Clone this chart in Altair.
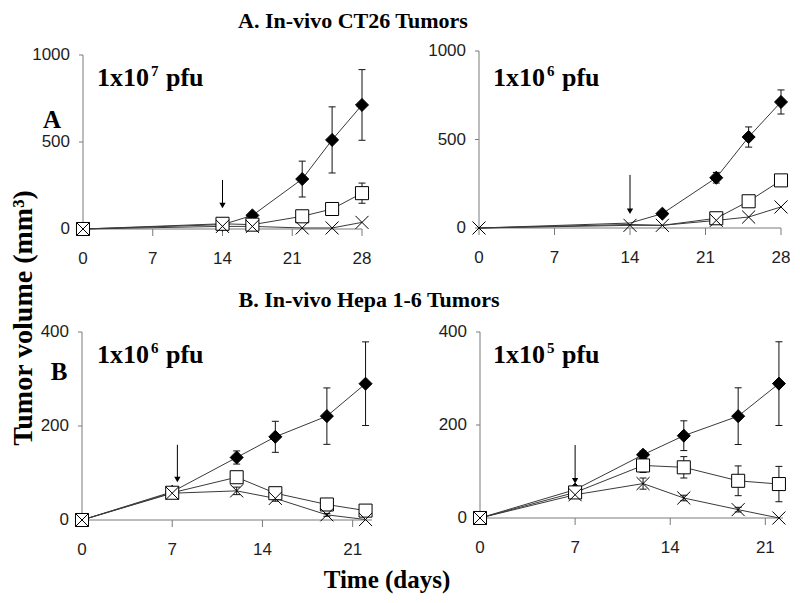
import altair as alt
import pandas as pd

# ---------------- data ----------------
series_names = ["Control", "Treatment 1", "Treatment 2"]

a_days = [0, 14, 17, 22, 25, 28]
b_days = [0, 7, 12, 15, 19, 22]

a_xticks = [0, 7, 14, 21, 28]
a_yticks = [0, 500, 1000]
b_xticks = [0, 7, 14, 21]
b_yticks = [0, 200, 400]

# A1: CT26, 1x10^7 pfu
a1_control = [0, 25, 78, 287, 512, 713]
a1_control_err = [0, 4, 8, 103, 190, 203]
a1_t1 = [0, 30, 25, 73, 115, 206]
a1_t1_err = [0, 0, 0, 10, 15, 58]
a1_t2 = [0, 15, 15, 6, 6, 38]
a1_t2_err = [0, 0, 0, 0, 0, 0]

# A2: CT26, 1x10^6 pfu
a2_control = [0, 28, 81, 284, 514, 712]
a2_control_err = [0, 0, 10, 30, 57, 68]
a2_control_marker = [False, False, True, True, True, True]
a2_t1 = [0, 20, 15, 55, 151, 269]
a2_t1_err = [0, 0, 0, 0, 10, 15]
a2_t1_marker = [False, False, False, True, True, True]
a2_t2 = [0, 15, 15, 43, 62, 119]
a2_t2_err = [0, 0, 0, 0, 0, 0]

# B1: Hepa 1-6, 1x10^6 pfu
b1_control = [0, 60, 133, 177, 221, 290]
b1_control_err = [0, 4, 14, 33, 60, 89]
b1_t1 = [0, 58, 91, 57, 33, 20]
b1_t1_err = [0, 3, 10, 8, 6, 6]
b1_t2 = [0, 57, 62, 46, 11, 1]
b1_t2_err = [0, 0, 8, 6, 3, 0]

# B2: Hepa 1-6, 1x10^5 pfu
b2_control = [0, 61, 136, 177, 219, 289]
b2_control_err = [0, 4, 8, 32, 61, 90]
b2_t1 = [0, 55, 113, 109, 80, 73]
b2_t1_err = [0, 5, 15, 23, 32, 38]
b2_t2 = [0, 50, 74, 43, 18, 0]
b2_t2_err = [0, 3, 12, 6, 5, 0]

# injection arrows: day, arrow top value, arrow head value
arrow_day = [14, 14, 7.4, 7]
arrow_top = [282, 300, 160, 157]
arrow_tip = [135, 95, 86, 80]

title_a = "A. In-vivo CT26 Tumors"
title_b = "B. In-vivo Hepa 1-6 Tumors"
dose_base = ["1x10", "1x10", "1x10", "1x10"]
dose_exp = ["7", "6", "6", "5"]
dose_unit = ["pfu", "pfu", "pfu", "pfu"]
y_title = "Tumor volume (mm³)"
x_title = "Time (days)"

# ---------------- layout ----------------
W, H = 784, 587
SERIF = "Liberation Serif"
SANS = "Liberation Sans"
X_PATH = "M-1,-1L1,1M-1,1L1,-1"
AXIS_GRAY = "#7a7a7a"


def panel_df(days, vals, errs, shows):
    rows = []
    for s, v, e, sh in zip(series_names, vals, errs, shows):
        for d, vv, ee, ss in zip(days, v, e, sh):
            rows.append(dict(day=d, value=vv, err=ee, lo=vv - ee, hi=vv + ee,
                             series=s, show=ss))
    return pd.DataFrame(rows)


def panel(df, arrow_i, xdom, xrange, ydom, yrange, xticks, yticks):
    xs = alt.Scale(domain=xdom, range=xrange, nice=False, zero=False)
    ys = alt.Scale(domain=ydom, range=yrange, nice=False, zero=False)

    def X(f):
        return alt.X(f, type="quantitative", scale=xs, axis=None)

    def Y(f):
        return alt.Y(f, type="quantitative", scale=ys, axis=None)

    # ---- hand-drawn axes (through the panel's scales) ----
    dom_df = pd.DataFrame({"x0": [xdom[0]], "x1": [xdom[1]],
                           "y0": [ydom[0]], "y1": [ydom[1]]})
    xt_df = pd.DataFrame({"tick": xticks, "label": [str(t) for t in xticks],
                          "base": [ydom[0]] * len(xticks)})
    yt_df = pd.DataFrame({"tick": yticks, "label": [str(t) for t in yticks],
                          "base": [xdom[0]] * len(yticks)})
    x_dom = alt.Chart(dom_df).mark_rule(color=AXIS_GRAY, strokeWidth=1).encode(
        x=X("x0"), x2="x1", y=Y("y0"))
    y_dom = alt.Chart(dom_df).mark_rule(color=AXIS_GRAY, strokeWidth=1).encode(
        x=X("x0"), y=Y("y0"), y2="y1")
    x_tck = alt.Chart(xt_df).mark_point(shape="M0,0L0,1", size=196, filled=False,
                                        stroke=AXIS_GRAY, strokeWidth=1,
                                        opacity=1).encode(x=X("tick"), y=Y("base"))
    y_tck = alt.Chart(yt_df).mark_point(shape="M0,0L-1,0", size=64, filled=False,
                                        stroke=AXIS_GRAY, strokeWidth=1,
                                        opacity=1).encode(x=X("base"), y=Y("tick"))
    x_lab = alt.Chart(xt_df).mark_text(font=SANS, fontSize=17, color="#1e1e1e",
                                       align="center", baseline="middle",
                                       dy=30).encode(x=X("tick"), y=Y("base"),
                                                     text="label:N")
    y_lab = alt.Chart(yt_df).mark_text(font=SANS, fontSize=17, color="#1e1e1e",
                                       align="right", baseline="middle",
                                       dx=-13).encode(x=X("base"), y=Y("tick"),
                                                      text="label:N")

    # ---- data marks ----
    base = alt.Chart(df)
    lines = base.mark_line(color="#3a3a3a", strokeWidth=1).encode(
        x=X("day"), y=Y("value"), detail="series:N", order="day:Q")
    errs = base.transform_filter("datum.err > 0 && datum.show")
    err_rule = errs.mark_rule(color="#111111", strokeWidth=1).encode(
        x=X("day"), y=Y("lo"), y2="hi")
    cap_hi = errs.mark_tick(orient="horizontal", size=7, thickness=1,
                            color="#111111", opacity=1).encode(x=X("day"), y=Y("hi"))
    cap_lo = errs.mark_tick(orient="horizontal", size=7, thickness=1,
                            color="#111111", opacity=1).encode(x=X("day"), y=Y("lo"))
    pts = base.transform_filter("datum.show").mark_point(
        opacity=1, stroke="black", strokeWidth=1, size=170
    ).encode(
        x=X("day"), y=Y("value"),
        shape=alt.Shape("series:N", scale=alt.Scale(
            domain=series_names, range=["diamond", "square", X_PATH]), legend=None),
        fill=alt.Fill("series:N", scale=alt.Scale(
            domain=series_names, range=["#000000", "#ffffff", "transparent"]),
            legend=None),
    )
    adf = pd.DataFrame({"day": [arrow_day[arrow_i]], "top": [arrow_top[arrow_i]],
                        "tip": [arrow_tip[arrow_i]]})
    arrow = alt.Chart(adf).mark_rule(color="black", strokeWidth=1).encode(
        x=X("day"), y=Y("top"), y2="tip")
    head = alt.Chart(adf).mark_point(shape="triangle-down", filled=True,
                                     color="black", opacity=1, size=40).encode(
        x=X("day"), y=Y("tip"))
    return alt.layer(x_dom, y_dom, x_tck, y_tck, x_lab, y_lab,
                     lines, err_rule, cap_hi, cap_lo, pts, arrow, head)


all_true = [True] * 6
pA1 = panel(panel_df(a_days, [a1_control, a1_t1, a1_t2],
                     [a1_control_err, a1_t1_err, a1_t2_err], [all_true] * 3),
            0, [0, 28], [75, 354], [0, 1000], [221, 47], a_xticks, a_yticks)
pA2 = panel(panel_df(a_days, [a2_control, a2_t1, a2_t2],
                     [a2_control_err, a2_t1_err, a2_t2_err],
                     [a2_control_marker, a2_t1_marker, all_true]),
            1, [0, 28], [471, 773], [0, 1000], [220, 43], a_xticks, a_yticks)
pB1 = panel(panel_df(b_days, [b1_control, b1_t1, b1_t2],
                     [b1_control_err, b1_t1_err, b1_t2_err], [all_true] * 3),
            2, [0, 22.5], [74, 364], [0, 400], [512, 324], b_xticks, b_yticks)
pB2 = panel(panel_df(b_days, [b2_control, b2_t1, b2_t2],
                     [b2_control_err, b2_t1_err, b2_t2_err], [all_true] * 3),
            3, [0, 22.3], [472, 775], [0, 400], [510, 324], b_xticks, b_yticks)


def text(t, x, y, size, align="center", baseline="middle", angle=0, font=SERIF):
    kw = dict(font=font, fontWeight="bold", fontSize=size, align=align,
              baseline=baseline, color="black")
    if angle:
        kw["angle"] = angle
    return alt.Chart(pd.DataFrame({"t": [t]})).mark_text(**kw).encode(
        text="t:N", x=alt.value(x), y=alt.value(y))


texts = [
    text(title_a, 345, 20, 22, baseline="alphabetic"),
    text(title_b, 361, 299, 22, baseline="alphabetic"),
    text("A", 44, 112, 25),
    text("B", 51, 364, 25),
    text(y_title, 16, 310, 28, angle=270),
    text(x_title, 379, 580, 25, baseline="alphabetic"),
]

FS = 26
dose_pos = [(89, 78), (485, 78), (89, 355), (485, 355)]
for i, (x0, yb) in enumerate(dose_pos):
    w = 0.5 * FS * len(dose_base[i])
    texts.append(text(dose_base[i], x0, yb, FS, align="left", baseline="alphabetic"))
    texts.append(text(dose_exp[i], x0 + w + 2, yb - 10, 15, align="left",
                      baseline="alphabetic"))
    texts.append(text(dose_unit[i], x0 + w + 17, yb, FS, align="left",
                      baseline="alphabetic"))

chart = alt.layer(pA1, pA2, pB1, pB2, *texts).resolve_scale(
    x="independent", y="independent"
).properties(
    width=W, height=H, autosize=alt.AutoSizeParams(type="none"), padding=0
).configure_view(stroke=None)

chart.save("out.html", embed_options={"renderer": "svg", "actions": False})
